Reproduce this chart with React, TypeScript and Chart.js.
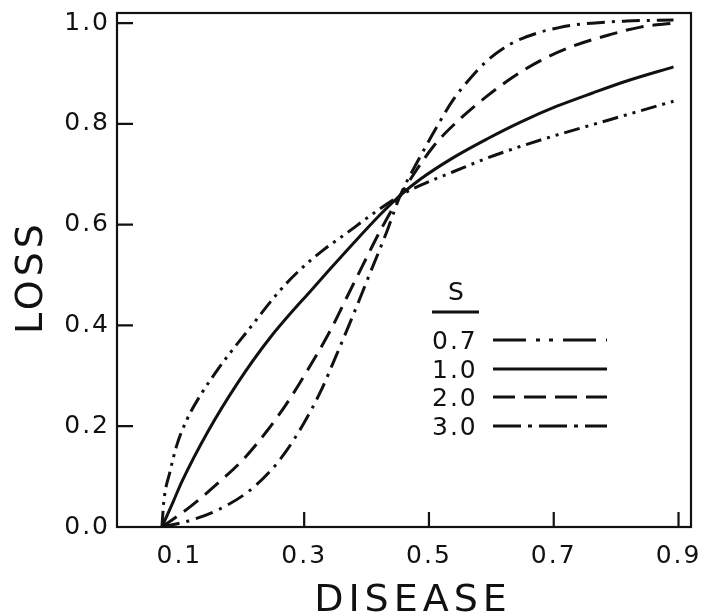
import React, { useEffect, useRef } from "react";
import { Chart, registerables } from "chart.js";

Chart.register(...registerables);

// ---- data ----
const seriesLabels = ["0.7", "1.0", "2.0", "3.0"];

const s07X = [0.072, 0.075, 0.085, 0.096, 0.112, 0.133, 0.16, 0.181, 0.208, 0.261, 0.293, 0.331, 0.368, 0.406, 0.454, 0.486, 0.539, 0.593, 0.646, 0.7, 0.764, 0.817, 0.892];
const s07Y = [0, 0.05, 0.11, 0.163, 0.213, 0.26, 0.31, 0.345, 0.387, 0.469, 0.51, 0.55, 0.583, 0.618, 0.658, 0.678, 0.705, 0.732, 0.755, 0.776, 0.799, 0.818, 0.845];

const s10X = [0.072, 0.09, 0.104, 0.146, 0.193, 0.245, 0.315, 0.368, 0.422, 0.454, 0.486, 0.539, 0.593, 0.646, 0.705, 0.764, 0.817, 0.892];
const s10Y = [0, 0.05, 0.09, 0.19, 0.285, 0.375, 0.475, 0.548, 0.62, 0.658, 0.69, 0.733, 0.77, 0.803, 0.835, 0.862, 0.885, 0.913];

const s20X = [0.072, 0.117, 0.16, 0.203, 0.24, 0.272, 0.3, 0.342, 0.368, 0.395, 0.422, 0.454, 0.507, 0.55, 0.593, 0.636, 0.678, 0.726, 0.79, 0.839, 0.892];
const s20Y = [0, 0.04, 0.085, 0.135, 0.19, 0.245, 0.3, 0.39, 0.455, 0.522, 0.588, 0.658, 0.755, 0.81, 0.855, 0.894, 0.925, 0.952, 0.977, 0.992, 1.0];

const s30X = [0.072, 0.117, 0.16, 0.208, 0.245, 0.272, 0.299, 0.326, 0.352, 0.379, 0.406, 0.433, 0.454, 0.486, 0.513, 0.539, 0.566, 0.593, 0.63, 0.673, 0.705, 0.737, 0.817, 0.892];
const s30Y = [0, 0.013, 0.033, 0.068, 0.11, 0.152, 0.205, 0.268, 0.342, 0.422, 0.505, 0.588, 0.658, 0.735, 0.795, 0.848, 0.89, 0.925, 0.958, 0.98, 0.99, 0.997, 1.004, 1.006];

const xTicks = [0.1, 0.3, 0.5, 0.7, 0.9];
const yTicks = [0, 0.2, 0.4, 0.6, 0.8, 1.0];

const xTitle = "DISEASE";
const yTitle = "LOSS";
const legendTitle = "S";

// ---- styles ----
const INK = "#111111";
const FONT = '"DejaVu Sans", sans-serif';
const curveDash = [
  [16, 6, 3, 6, 3, 6],
  [],
  [18, 9],
  [18, 7, 3, 7],
];
const legendDash = [
  [33, 10, 4, 9, 4, 10],
  [],
  [22, 9],
  [28, 7, 4, 7],
];

const toPoints = (xs: number[], ys: number[]) => xs.map((x, i) => ({ x, y: ys[i] }));
const seriesData = [
  toPoints(s07X, s07Y),
  toPoints(s10X, s10Y),
  toPoints(s20X, s20Y),
  toPoints(s30X, s30Y),
];

const decorPlugin = {
  id: "decor",
  beforeDraw(chart: any) {
    (chart.ctx as any).letterSpacing = "2px";
  },
  afterDraw(chart: any) {
    const ctx = chart.ctx as any;
    const { left, right, top, bottom } = chart.chartArea;
    const xs = chart.scales.x;
    const ys = chart.scales.y;
    ctx.save();
    ctx.strokeStyle = INK;
    ctx.fillStyle = INK;
    ctx.setLineDash([]);
    // frame
    ctx.lineWidth = 2.2;
    ctx.strokeRect(left, top, right - left, bottom - top);
    // inward tick marks
    ctx.beginPath();
    ys.ticks.forEach((t: any) => {
      if (t.value <= 0) return;
      const py = ys.getPixelForValue(t.value);
      ctx.moveTo(left, py);
      ctx.lineTo(left + 16, py);
    });
    xs.ticks.forEach((t: any) => {
      if (t.value < 0.2) return;
      const px = xs.getPixelForValue(t.value);
      ctx.moveTo(px, bottom);
      ctx.lineTo(px, bottom - 15);
    });
    ctx.stroke();

    // axis titles
    ctx.font = `38px ${FONT}`;
    ctx.letterSpacing = "5px";
    ctx.textAlign = "center";
    ctx.textBaseline = "alphabetic";
    ctx.fillText(xTitle, 413, 611);

    ctx.save();
    ctx.translate(42, 279);
    ctx.rotate(-Math.PI / 2);
    ctx.letterSpacing = "4px";
    ctx.fillText(yTitle, 2, 0);
    ctx.restore();

    // legend
    ctx.font = `25px ${FONT}`;
    ctx.letterSpacing = "0px";
    ctx.textAlign = "center";
    ctx.fillText(legendTitle, 456, 300);
    ctx.lineWidth = 3;
    ctx.beginPath();
    ctx.moveTo(432, 312);
    ctx.lineTo(479, 312);
    ctx.stroke();
    const rowsY = [340, 369, 397, 426];
    ctx.letterSpacing = "2px";
    ctx.textAlign = "left";
    seriesLabels.forEach((lab, i) => {
      ctx.fillText(lab, 432, rowsY[i] + 9);
      ctx.setLineDash(legendDash[i]);
      ctx.lineWidth = 3;
      ctx.beginPath();
      ctx.moveTo(493, rowsY[i]);
      ctx.lineTo(607, rowsY[i]);
      ctx.stroke();
    });
    ctx.setLineDash([]);
    ctx.restore();
    ctx.letterSpacing = "0px";
  },
};

export default function App() {
  const ref = useRef<HTMLCanvasElement | null>(null);
  useEffect(() => {
    if (!ref.current) return;
    const chart = new Chart(ref.current, {
      type: "scatter",
      data: {
        datasets: seriesData.map((d, i) => ({
          label: seriesLabels[i],
          data: d,
          showLine: true,
          borderColor: INK,
          backgroundColor: INK,
          borderWidth: 3,
          borderDash: curveDash[i],
          borderCapStyle: "butt",
          pointRadius: 0,
          cubicInterpolationMode: "monotone",
          fill: false,
        })),
      },
      options: {
        responsive: false,
        animation: false,
        devicePixelRatio: 1,
        layout: { padding: { top: 13, right: 10, left: 0, bottom: 0 } },
        plugins: {
          legend: { display: false },
          tooltip: { enabled: false },
          title: { display: false },
        },
        scales: {
          x: {
            type: "linear",
            min: 0,
            max: 0.92,
            border: { display: false },
            grid: { display: false, drawTicks: false },
            afterBuildTicks: (s: any) => {
              s.ticks = xTicks.map((v) => ({ value: v }));
            },
            afterFit: (s: any) => {
              s.height = 86;
              s.paddingLeft = 0;
              s.paddingRight = 0;
            },
            ticks: {
              autoSkip: false,
              maxRotation: 0,
              padding: 14,
              color: INK,
              font: { family: FONT, size: 25 },
              callback: (v: any) => Number(v).toFixed(1),
            },
          },
          y: {
            type: "linear",
            min: 0,
            max: 1.02,
            border: { display: false },
            grid: { display: false, drawTicks: false },
            afterBuildTicks: (s: any) => {
              s.ticks = yTicks.map((v) => ({ value: v }));
            },
            afterFit: (s: any) => {
              s.width = 117;
              s.paddingTop = 0;
              s.paddingBottom = 0;
            },
            ticks: {
              autoSkip: false,
              padding: 7,
              color: INK,
              font: { family: FONT, size: 25 },
              callback: (v: any) => Number(v).toFixed(1),
            },
          },
        },
      } as any,
      plugins: [decorPlugin],
    });
    return () => chart.destroy();
  }, []);

  return (
    <div style={{ position: "absolute", left: 0, top: 0, width: 701, height: 613, background: "#fff" }}>
      <canvas ref={ref} width={701} height={613} style={{ display: "block" }} />
    </div>
  );
}
